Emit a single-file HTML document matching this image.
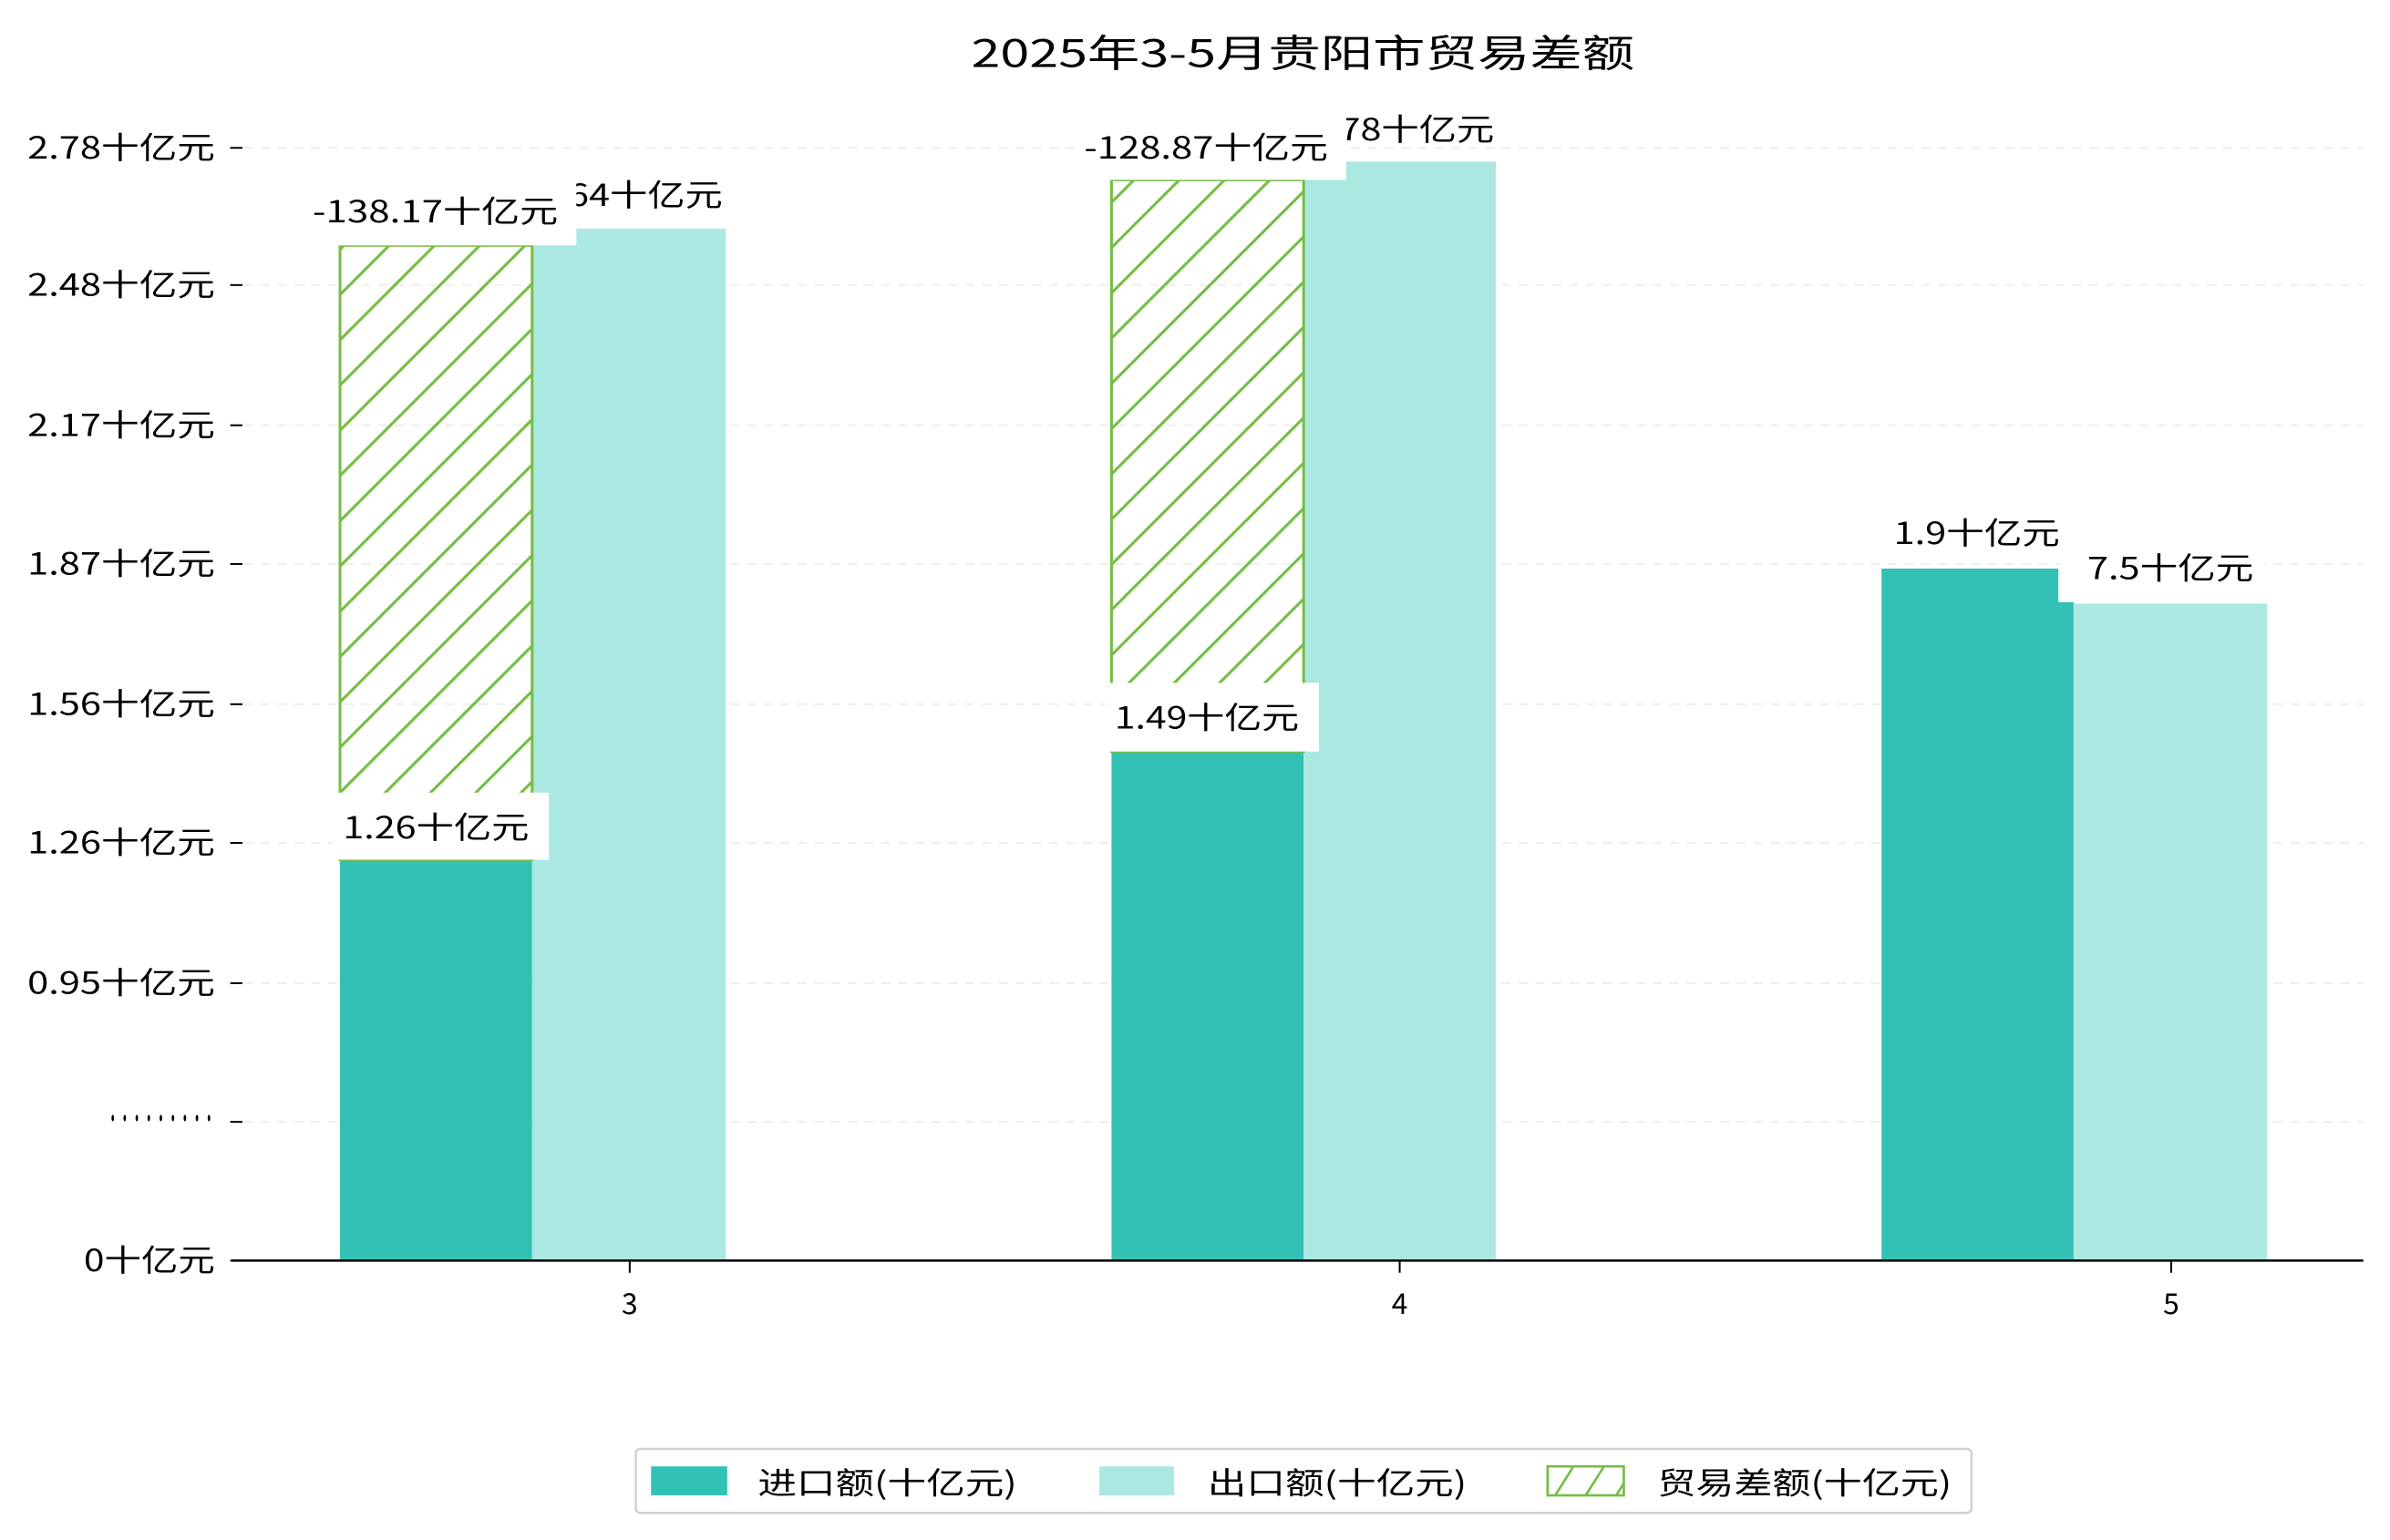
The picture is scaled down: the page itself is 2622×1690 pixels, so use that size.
<!DOCTYPE html>
<html><head><meta charset="utf-8"><style>
html,body{margin:0;padding:0;background:#fff}
svg{display:block}
text{font-family:"WenQuanYi Zen Hei","Noto Sans CJK SC",sans-serif;fill:#000}
</style></head><body>
<svg width="2622" height="1690" viewBox="0 0 1567.5 1010.3" preserveAspectRatio="none" xmlns="http://www.w3.org/2000/svg">
<defs>
<pattern id="h" patternUnits="userSpaceOnUse" width="29.7" height="29.7" x="0.5" y="0">
<path d="M-2,31.7 L31.7,-2 M-2,2 L2,-2 M27.7,31.7 L31.7,27.7" stroke="#76bd45" stroke-width="1.9"/>
</pattern>
</defs>
<rect width="1570" height="1012" fill="#fff"/>
<text x="637" y="44" font-size="25" textLength="435" lengthAdjust="spacingAndGlyphs">2025年3-5月贵阳市贸易差额</text>
<g stroke="#ececec" stroke-width="1" stroke-dasharray="6,5">
<line x1="160" x2="1550" y1="97" y2="97"/><line x1="160" x2="1550" y1="187" y2="187"/>
<line x1="160" x2="1550" y1="279" y2="279"/><line x1="160" x2="1550" y1="370" y2="370"/>
<line x1="160" x2="1550" y1="462" y2="462"/><line x1="160" x2="1550" y1="553" y2="553"/>
<line x1="160" x2="1550" y1="645" y2="645"/><line x1="160" x2="1550" y1="736" y2="736"/>
</g>
<g stroke="#000" stroke-width="1.2">
<line x1="151" x2="159" y1="97" y2="97"/><line x1="151" x2="159" y1="187" y2="187"/>
<line x1="151" x2="159" y1="279" y2="279"/><line x1="151" x2="159" y1="370" y2="370"/>
<line x1="151" x2="159" y1="462" y2="462"/><line x1="151" x2="159" y1="553" y2="553"/>
<line x1="151" x2="159" y1="645" y2="645"/><line x1="151" x2="159" y1="736" y2="736"/>
<line x1="151" x2="159" y1="827" y2="827"/>
<line x1="413" x2="413" y1="827" y2="835"/><line x1="918" x2="918" y1="827" y2="835"/><line x1="1424" x2="1424" y1="827" y2="835"/>
</g>
<g font-size="20">
<text x="18" y="104" textLength="123" lengthAdjust="spacingAndGlyphs">2.78十亿元</text>
<text x="18" y="194" textLength="123" lengthAdjust="spacingAndGlyphs">2.48十亿元</text>
<text x="18" y="286" textLength="123" lengthAdjust="spacingAndGlyphs">2.17十亿元</text>
<text x="18" y="377" textLength="123" lengthAdjust="spacingAndGlyphs">1.87十亿元</text>
<text x="18" y="469" textLength="123" lengthAdjust="spacingAndGlyphs">1.56十亿元</text>
<text x="18" y="560" textLength="123" lengthAdjust="spacingAndGlyphs">1.26十亿元</text>
<text x="18" y="652" textLength="123" lengthAdjust="spacingAndGlyphs">0.95十亿元</text>
<text x="70" y="741" textLength="71" lengthAdjust="spacingAndGlyphs">·········</text>
<text x="55" y="834" textLength="86" lengthAdjust="spacingAndGlyphs">0十亿元</text>
</g>
<g font-size="19" text-anchor="middle">
<text x="413" y="862">3</text><text x="918" y="862">4</text><text x="1424" y="862">5</text>
</g>
<rect x="223" y="564" width="126" height="263" fill="#32c1b4"/>
<rect x="349" y="150" width="127" height="677" fill="#abe8e2"/>
<rect x="223" y="161" width="126" height="403" fill="url(#h)" stroke="#76bd45" stroke-width="1.8"/>
<rect x="729" y="493" width="126" height="334" fill="#32c1b4"/>
<rect x="855" y="106" width="126" height="721" fill="#abe8e2"/>
<rect x="729" y="118" width="126" height="375" fill="url(#h)" stroke="#76bd45" stroke-width="1.8"/>
<rect x="1234" y="373" width="126" height="454" fill="#32c1b4"/>
<rect x="1360" y="396" width="127" height="431" fill="#abe8e2"/>
<line x1="152" x2="1550" y1="827" y2="827" stroke="#000" stroke-width="1.5"/>
<g font-size="20">
<text x="352" y="135" textLength="122" lengthAdjust="spacingAndGlyphs">2.64十亿元</text>
<rect x="200" y="118" width="178" height="43" fill="#fff"/>
<text x="205" y="146" textLength="161" lengthAdjust="spacingAndGlyphs">-138.17十亿元</text>
<rect x="218" y="520" width="142" height="44" fill="#fff"/>
<text x="225" y="550" textLength="122" lengthAdjust="spacingAndGlyphs">1.26十亿元</text>
<text x="858" y="92" textLength="122" lengthAdjust="spacingAndGlyphs">2.78十亿元</text>
<rect x="705" y="75" width="178" height="43" fill="#fff"/>
<text x="711" y="104" textLength="160" lengthAdjust="spacingAndGlyphs">-128.87十亿元</text>
<rect x="725" y="448" width="140" height="45" fill="#fff"/>
<text x="731" y="478" textLength="121" lengthAdjust="spacingAndGlyphs">1.49十亿元</text>
<text x="1242" y="357" textLength="109" lengthAdjust="spacingAndGlyphs">1.9十亿元</text>
<rect x="1350" y="356" width="135" height="39" fill="#fff"/>
<text x="1369" y="380" textLength="109" lengthAdjust="spacingAndGlyphs">7.5十亿元</text>
</g>
<rect x="417" y="950.5" width="876" height="42" rx="3" fill="#fff" stroke="#d0d0d0" stroke-width="1.5"/>
<rect x="427" y="962" width="50" height="19" fill="#32c1b4"/>
<rect x="721" y="962" width="49" height="19" fill="#abe8e2"/>
<rect x="1015" y="962" width="50" height="19" fill="#fff" stroke="#76bd45" stroke-width="1.6"/>
<path d="M1020,981 L1032,962 M1040,981 L1052,962 M1060,981 L1065,973" stroke="#76bd45" stroke-width="1.6"/>
<g font-size="20">
<text x="497" y="980" textLength="170" lengthAdjust="spacingAndGlyphs">进口额(十亿元)</text>
<text x="792" y="980" textLength="170" lengthAdjust="spacingAndGlyphs">出口额(十亿元)</text>
<text x="1087" y="980" textLength="193" lengthAdjust="spacingAndGlyphs">贸易差额(十亿元)</text>
</g>
</svg>
</body></html>
